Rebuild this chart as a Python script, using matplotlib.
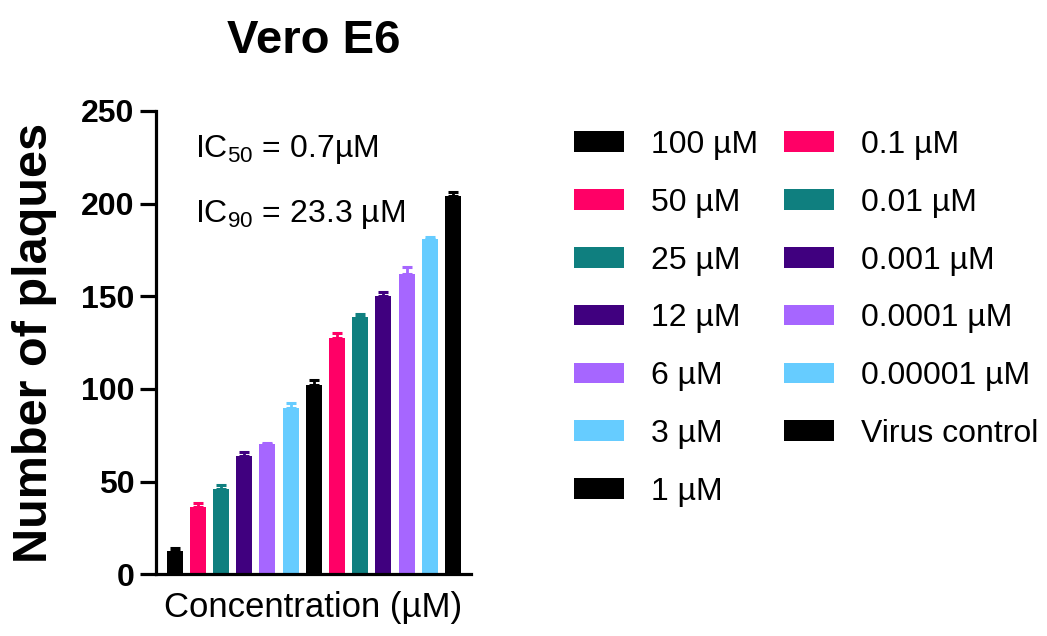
import matplotlib
matplotlib.use("Agg")
import matplotlib.pyplot as plt
import numpy as np

plt.rcParams['font.family'] = ['Liberation Sans', 'DejaVu Sans']
plt.rcParams['mathtext.fontset'] = 'custom'
plt.rcParams['mathtext.rm'] = 'Liberation Sans'
plt.rcParams['mathtext.it'] = 'Liberation Sans'

# Treatment groups (bar order left to right)
groups = ["100 µM", "50 µM", "25 µM", "12 µM", "6 µM", "3 µM", "1 µM",
          "0.1 µM", "0.01 µM", "0.001 µM", "0.0001 µM", "0.00001 µM",
          "Virus control"]
mean_plaques = [12.6, 36.2, 45.9, 63.9, 70.4, 89.8, 102.4,
                127.6, 139.0, 150.1, 161.8, 180.9, 204.3]
sem_plaques = [1.8, 2.1, 2.5, 2.3, 0.7, 2.4, 2.7,
               2.7, 1.2, 2.0, 4.2, 1.3, 1.8]
palette = ["#000000", "#FF0066", "#0F7F7F", "#40007F", "#A666FF", "#66CCFF"]
bar_colors = [palette[i % 6] for i in range(12)] + ["#000000"]

y_ticks = [0, 50, 100, 150, 200, 250]

fig = plt.figure(figsize=(10.47, 6.36), dpi=100)
ax = fig.add_axes([156 / 1047, 1 - 574.3 / 636, 315 / 1047, 463.3 / 636])

x = np.arange(len(groups))
for xi, m, e, c, lab in zip(x, mean_plaques, sem_plaques, bar_colors, groups):
    ax.bar(xi, m, width=0.69, color=c, label=lab, zorder=2)
    ax.errorbar(xi, m, yerr=[[0], [e]], fmt='none', ecolor=c,
                elinewidth=2, capsize=3.5, capthick=2.2, zorder=3)

ax.set_xlim(-0.8, 12.77)
ax.set_ylim(0, 250)
ax.set_yticks(y_ticks)
ax.set_xticks([])
for s in ["top", "right"]:
    ax.spines[s].set_visible(False)
for s in ["left", "bottom"]:
    ax.spines[s].set_linewidth(2.3)
ax.tick_params(axis='y', length=11.5, width=2.3, pad=4, labelsize=23)
for lbl in ax.get_yticklabels():
    lbl.set_fontweight('bold')

ax.set_ylabel("Number of plaques", fontsize=35, fontweight='bold')
ax.yaxis.set_label_coords(-0.315, 0.5)
ax.set_xlabel("Concentration (µM)", fontsize=25, labelpad=12)
ax.set_title("Vero E6", fontsize=34, fontweight='bold', pad=42)

ax.text(0.124, 0.9007, r"IC$_{50}$ = 0.7µM", transform=ax.transAxes,
        fontsize=23, va='baseline', ha='left')
ax.text(0.124, 0.760, r"IC$_{90}$ = 23.3 µM", transform=ax.transAxes,
        fontsize=23, va='baseline', ha='left')

handles, labels = ax.get_legend_handles_labels()
fig.legend(handles, labels, loc='upper left',
           bbox_to_anchor=(574 / 1047, 1 - 130 / 636),
           ncol=2, frameon=False, fontsize=23, borderpad=0,
           handlelength=1.56, handleheight=0.62, handletextpad=0.85,
           columnspacing=0.8, labelspacing=0.87, borderaxespad=0)

fig.savefig("out.png", dpi=100)
